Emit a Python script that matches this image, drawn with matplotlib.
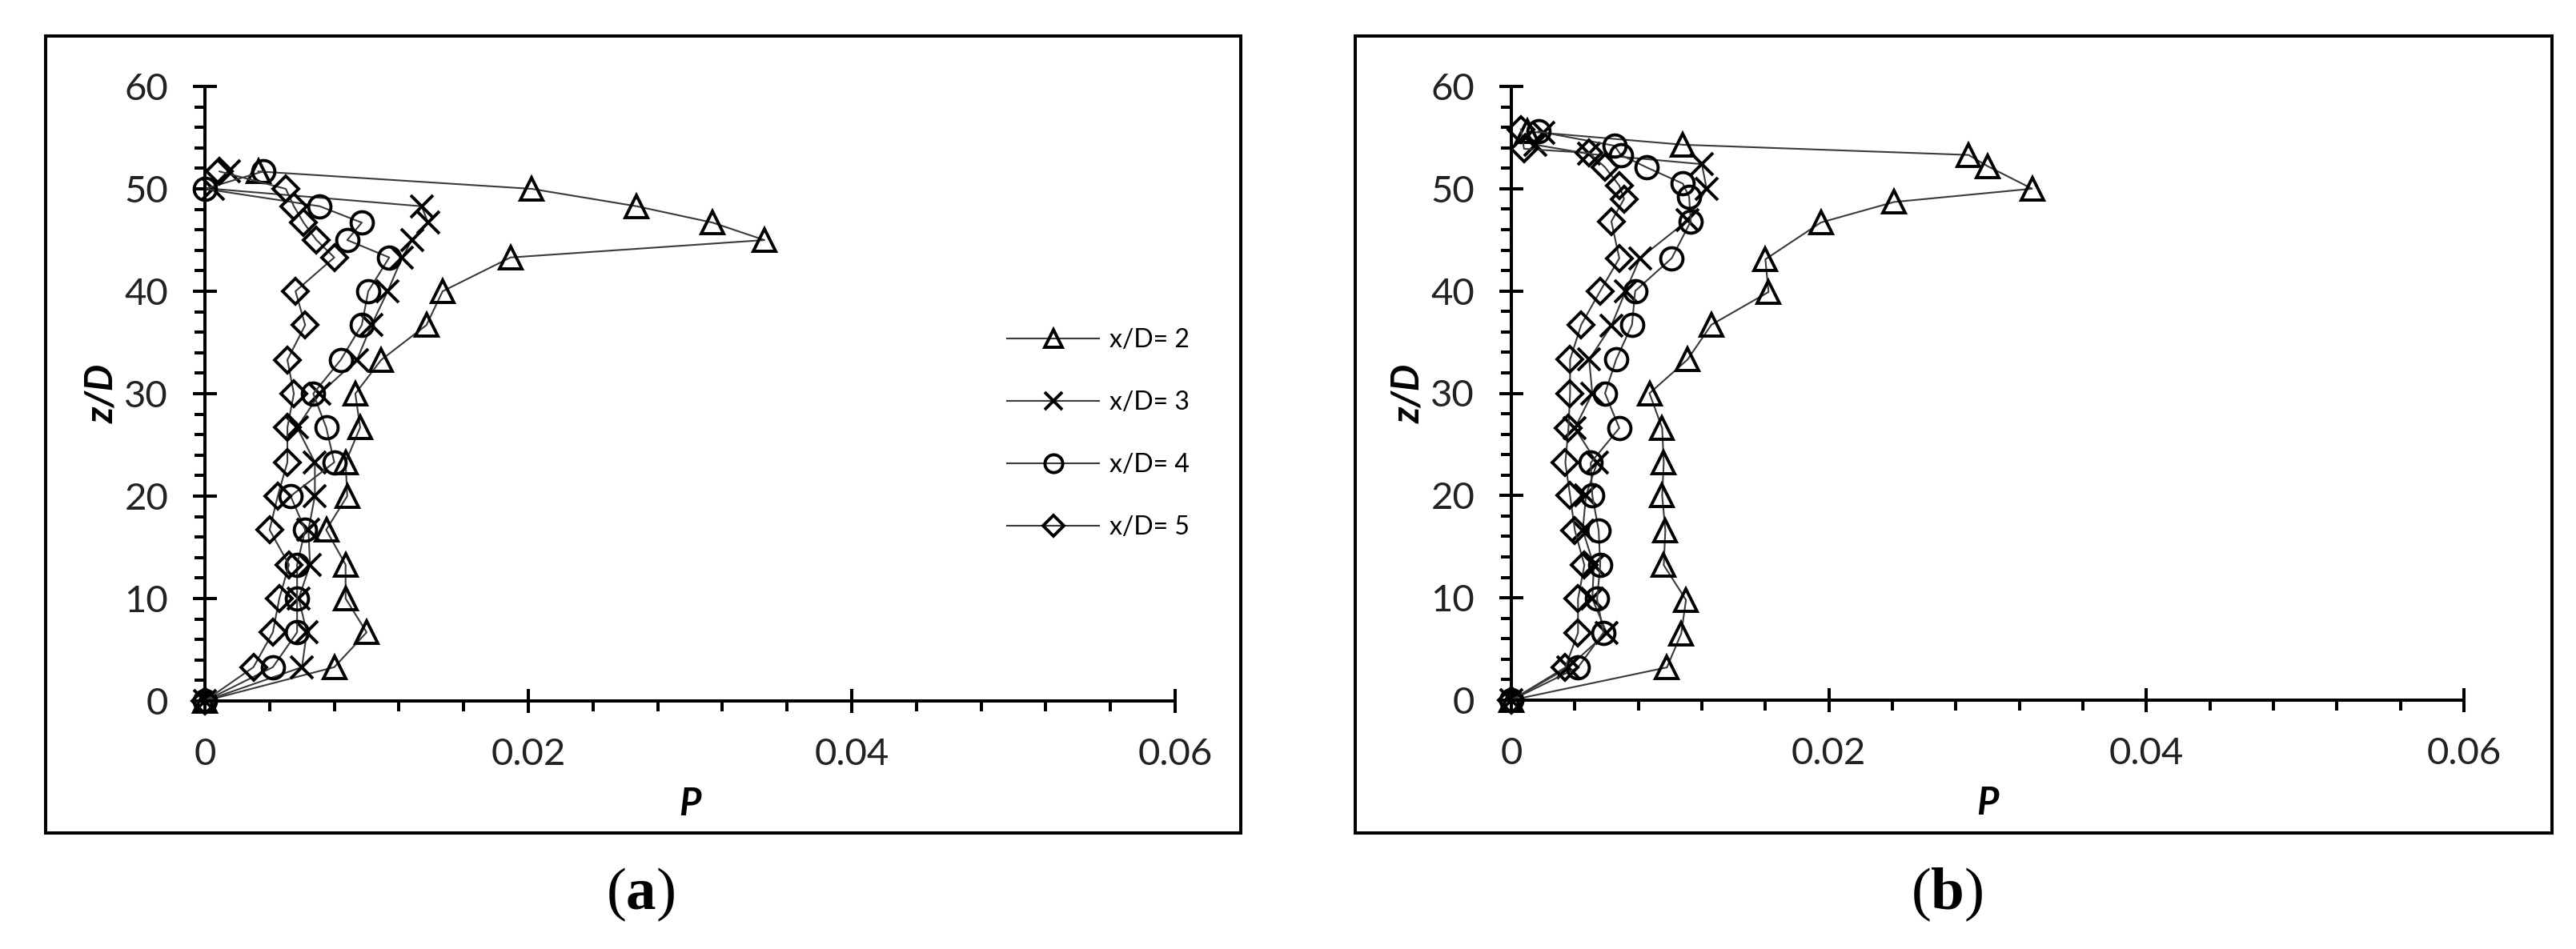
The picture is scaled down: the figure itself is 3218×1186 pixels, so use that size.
import matplotlib
matplotlib.use("Agg")
import matplotlib.pyplot as plt
from matplotlib.ticker import FixedLocator, MultipleLocator
from matplotlib.patches import Rectangle

plt.rcParams['font.family'] = ['Lato', 'DejaVu Sans']
plt.rcParams['mathtext.fontset'] = 'custom'
plt.rcParams['mathtext.rm'] = 'Liberation Serif'
plt.rcParams['mathtext.bf'] = 'Liberation Serif:bold'

# ---------------- data ----------------
series_labels = ["x/D= 2", "x/D= 3", "x/D= 4", "x/D= 5"]
x_ticks = [0, 0.02, 0.04, 0.06]
x_tick_labels = ["0", "0.02", "0.04", "0.06"]
y_ticks = [0, 10, 20, 30, 40, 50, 60]

# panel (a)
za_2 = [0, 3.3, 6.7, 10, 13.3, 16.7, 20, 23.3, 26.7, 30, 33.3, 36.7, 40, 43.3, 45, 46.7, 48.3, 50, 51.7]
pa_2 = [0, 0.0080, 0.0100, 0.0087, 0.0087, 0.0075, 0.0088, 0.0087, 0.0096, 0.0093, 0.0109, 0.0137, 0.0147,
        0.0189, 0.0346, 0.0314, 0.0267, 0.0202, 0.0033]
za_3 = [0, 3.3, 6.7, 10, 13.3, 16.7, 20, 23.3, 26.7, 30, 33.3, 36.7, 40, 43.3, 45, 46.7, 48.3, 50, 51.7]
pa_3 = [0, 0.0060, 0.0063, 0.0058, 0.0065, 0.0064, 0.0068, 0.0068, 0.0057, 0.0071, 0.0094, 0.0103, 0.0113,
        0.0122, 0.0128, 0.0138, 0.0134, 0.0005, 0.0015]
za_4 = [0, 3.3, 6.7, 10, 13.3, 16.7, 20, 23.3, 26.7, 30, 33.3, 36.7, 40, 43.3, 45, 46.7, 48.3, 50, 51.7]
pa_4 = [0, 0.0042, 0.0057, 0.0057, 0.0057, 0.0062, 0.0053, 0.0080, 0.0075, 0.0067, 0.0084, 0.0097, 0.0101,
        0.0114, 0.0088, 0.0097, 0.0071, 0, 0.0036]
za_5 = [0, 3.3, 6.7, 10, 13.3, 16.7, 20, 23.3, 26.7, 30, 33.3, 36.7, 40, 43.3, 45, 46.7, 48.3, 50, 51.7]
pa_5 = [0, 0.0030, 0.0042, 0.0046, 0.0052, 0.0040, 0.0045, 0.0051, 0.0051, 0.0055, 0.0051, 0.0062, 0.0056,
        0.0080, 0.0069, 0.0061, 0.0055, 0.0050, 0.0009]

# panel (b)
zb_2 = [0, 3.2, 6.5, 9.8, 13.2, 16.6, 20, 23.2, 26.6, 30, 33.3, 36.7, 39.9, 43.1, 46.7, 48.7, 50, 52.2, 53.3,
        54.3, 55.6]
pb_2 = [0, 0.0098, 0.0107, 0.0110, 0.0096, 0.0097, 0.0095, 0.0096, 0.0095, 0.0087, 0.0111, 0.0126, 0.0162,
        0.0160, 0.0195, 0.0241, 0.0328, 0.0300, 0.0288, 0.0108, 0.0010]
zb_3 = [0, 3.2, 6.6, 9.9, 13.2, 16.6, 20, 23.2, 26.6, 30, 33.3, 36.6, 40, 43.2, 46.9, 50, 52.4, 53.4, 54.3, 55.5]
pb_3 = [0, 0.0036, 0.0060, 0.0051, 0.0052, 0.0045, 0.0047, 0.0054, 0.0040, 0.0051, 0.0049, 0.0063, 0.0072,
        0.0081, 0.0111, 0.0123, 0.0120, 0.0049, 0.0015, 0.0020]
zb_4 = [0, 3.2, 6.6, 9.9, 13.2, 16.6, 20, 23.2, 26.6, 30, 33.3, 36.7, 40, 43.2, 46.8, 49.2, 50.5, 52.1, 53.3,
        54.2, 55.6]
pb_4 = [0, 0.0042, 0.0058, 0.0054, 0.0056, 0.0055, 0.0051, 0.0050, 0.0068, 0.0059, 0.0066, 0.0076, 0.0078,
        0.0101, 0.0113, 0.0112, 0.0108, 0.0085, 0.0069, 0.0065, 0.0017]
zb_5 = [0, 3.2, 6.6, 9.9, 13.2, 16.6, 20, 23.2, 26.6, 30, 33.3, 36.7, 40, 43.2, 46.8, 49.0, 50.3, 52.1, 53.5,
        53.9, 55.8]
pb_5 = [0, 0.0034, 0.0042, 0.0042, 0.0046, 0.0040, 0.0037, 0.0034, 0.0036, 0.0037, 0.0037, 0.0044, 0.0056,
        0.0068, 0.0063, 0.0071, 0.0068, 0.0059, 0.0049, 0.0008, 0.0006]

# ---------------- styling ----------------
W, H = 3218, 1186
fig = plt.figure(figsize=(W / 100, H / 100), dpi=100)

markers = ['^', 'x', 'o', 'D']
msizes = [20, 20, 20, 16]
line_color = '#3a3a3a'
FS = 34


def setup_axes(ax):
    ax.set_xlim(0, 0.06)
    ax.set_ylim(0, 60)
    for s in ['top', 'right']:
        ax.spines[s].set_visible(False)
    for s in ['left', 'bottom']:
        ax.spines[s].set_linewidth(2.9)
    ax.xaxis.set_major_locator(FixedLocator(x_ticks))
    ax.set_xticklabels(x_tick_labels)
    ax.xaxis.set_minor_locator(MultipleLocator(0.004))
    ax.yaxis.set_major_locator(FixedLocator(y_ticks))
    ax.yaxis.set_minor_locator(MultipleLocator(2))
    ax.tick_params(which='major', direction='inout', length=22, width=2.9, labelsize=FS, pad=22,
                   labelcolor='#222222')
    ax.tick_params(which='minor', direction='out', length=9.5, width=2.9)
    ax.set_xlabel('P', fontsize=FS, fontweight='bold', fontstyle='italic', va='center')
    ax.set_ylabel('z/D', fontsize=FS, fontweight='bold', fontstyle='italic', va='center')


def draw(ax, zs, ps):
    lines = []
    for z, p, m, ms, lab in zip(zs, ps, markers, msizes, series_labels):
        ln, = ax.plot(p, z, color=line_color, lw=1.5, marker=m, markersize=ms,
                      markerfacecolor='none', markeredgecolor='black', markeredgewidth=2.8,
                      label=lab, clip_on=False)
        lines.append(ln)
    return lines


# axes positions (figure fraction)
ax_a = fig.add_axes([256 / W, 1 - 876 / H, (1468 - 256) / W, (876 - 108) / H])
ax_b = fig.add_axes([1888 / W, 1 - 875 / H, (3078 - 1888) / W, (875 - 108) / H])

lines_a = draw(ax_a, [za_2, za_3, za_4, za_5], [pa_2, pa_3, pa_4, pa_5])
draw(ax_b, [zb_2, zb_3, zb_4, zb_5], [pb_2, pb_3, pb_4, pb_5])

setup_axes(ax_a)
setup_axes(ax_b)
ax_a.yaxis.set_label_coords(-129 / 1212, 0.5)
ax_b.yaxis.set_label_coords(-129 / 1190, 0.5)
ax_a.xaxis.set_label_coords(0.5, -129 / 768)
ax_b.xaxis.set_label_coords(0.5, -129 / 767)

# legend (panel a)
fig.legend(handles=lines_a, labels=series_labels, loc='center left',
           bbox_to_anchor=(1258 / W, 1 - 542 / H), frameon=False, fontsize=23,
           handlelength=3.6, handletextpad=0.4, labelspacing=1.5, borderpad=0,
           borderaxespad=0, markerscale=0.8)

# panel frames
for x0, x1 in [(57, 1550), (1693, 3188)]:
    fig.patches.append(Rectangle((x0 / W, 1 - 1041 / H), (x1 - x0) / W, (1041 - 45) / H,
                                 transform=fig.transFigure, fill=False, lw=2.9, edgecolor='black'))

# panel captions
fig.text(800 / W, 1 - 1118 / H, r'($\mathbf{a}$)', fontsize=54, ha='center', va='center',
         family='Liberation Serif')
fig.text(2432 / W, 1 - 1118 / H, r'($\mathbf{b}$)', fontsize=54, ha='center', va='center',
         family='Liberation Serif')

fig.savefig('out.png', dpi=100)
